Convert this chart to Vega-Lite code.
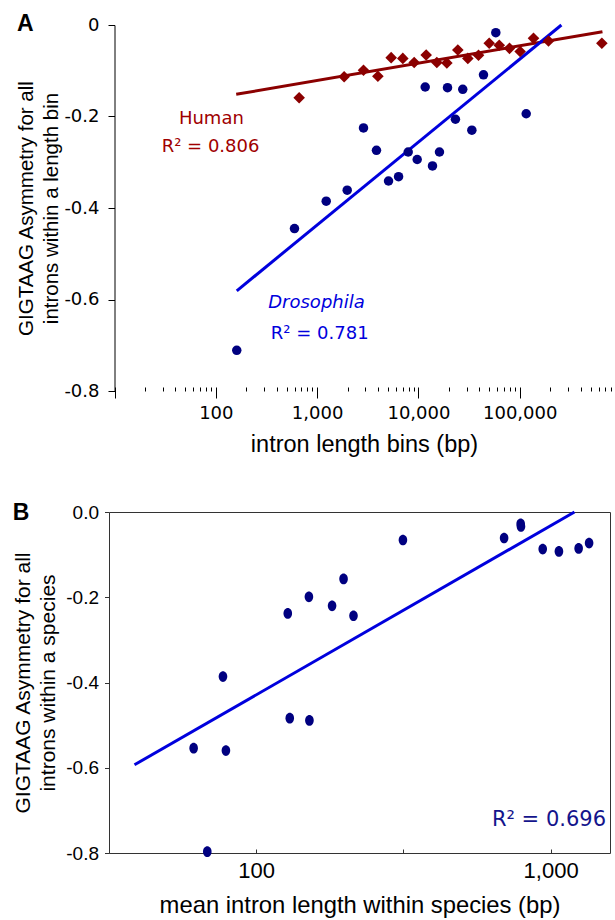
{
  "$schema": "https://vega.github.io/schema/vega-lite/v6.json",
  "background": "white",
  "padding": {"left": 12, "top": 13, "right": 0, "bottom": 0},
  "spacing": 45,
  "datasets": {
    "one": [{}],
    "humanA": [
      {"len": 665, "asym": -0.159}, {"len": 1849, "asym": -0.113}, {"len": 2871, "asym": -0.099},
      {"len": 3981, "asym": -0.112}, {"len": 5383, "asym": -0.0714}, {"len": 7015, "asym": -0.073},
      {"len": 9084, "asym": -0.082}, {"len": 11930, "asym": -0.0656}, {"len": 15200, "asym": -0.082},
      {"len": 19090, "asym": -0.083}, {"len": 24500, "asym": -0.0546}, {"len": 30760, "asym": -0.073},
      {"len": 39200, "asym": -0.066}, {"len": 50000, "asym": -0.040}, {"len": 62800, "asym": -0.0444},
      {"len": 79300, "asym": -0.051}, {"len": 101000, "asym": -0.058}, {"len": 136800, "asym": -0.029},
      {"len": 192400, "asym": -0.035}, {"len": 647000, "asym": -0.040}
    ],
    "drosA": [
      {"len": 161, "asym": -0.711}, {"len": 598, "asym": -0.445}, {"len": 1230, "asym": -0.385},
      {"len": 1982, "asym": -0.361}, {"len": 2871, "asym": -0.225}, {"len": 3855, "asym": -0.274},
      {"len": 5070, "asym": -0.341}, {"len": 6370, "asym": -0.3315}, {"len": 7930, "asym": -0.2776},
      {"len": 9730, "asym": -0.294}, {"len": 11670, "asym": -0.1355}, {"len": 13770, "asym": -0.308},
      {"len": 16140, "asym": -0.2776}, {"len": 19380, "asym": -0.137}, {"len": 23200, "asym": -0.206},
      {"len": 27400, "asym": -0.1405}, {"len": 33700, "asym": -0.230}, {"len": 43900, "asym": -0.109},
      {"len": 58100, "asym": -0.0168}, {"len": 115900, "asym": -0.194}
    ],
    "fitA": [
      {"species": "Human", "len": 159, "asym": -0.1515},
      {"species": "Human", "len": 656000, "asym": -0.0146},
      {"species": "Drosophila", "len": 161, "asym": -0.581},
      {"species": "Drosophila", "len": 258000, "asym": 0}
    ],
    "labelsA": [
      {"group": "human", "label": "Human", "len": 90.4, "asym": -0.217},
      {"group": "human", "label": "R² = 0.806", "len": 88.7, "asym": -0.2776},
      {"group": "drosName", "label": "Drosophila", "len": 986, "asym": -0.618},
      {"group": "dros", "label": "R² = 0.781", "len": 1062, "asym": -0.687}
    ],
    "speciesB": [
      {"len": 315, "asym": -0.0657}, {"len": 695, "asym": -0.061}, {"len": 791, "asym": -0.028},
      {"len": 793, "asym": -0.034}, {"len": 940, "asym": -0.0869}, {"len": 1067, "asym": -0.0925},
      {"len": 1245, "asym": -0.0854}, {"len": 1351, "asym": -0.0728}, {"len": 198, "asym": -0.157},
      {"len": 151, "asym": -0.199}, {"len": 181, "asym": -0.220}, {"len": 128, "asym": -0.238},
      {"len": 214, "asym": -0.2434}, {"len": 77.1, "asym": -0.386}, {"len": 61.3, "asym": -0.554},
      {"len": 78.9, "asym": -0.5596}, {"len": 130, "asym": -0.4836}, {"len": 151.6, "asym": -0.489},
      {"len": 68.2, "asym": -0.797}
    ],
    "fitB": [
      {"len": 38.6, "asym": -0.593}, {"len": 1205, "asym": 0}
    ],
    "labelsB": [
      {"label": "R² = 0.696", "len": 1542, "asym": -0.7364}
    ]
  },
  "vconcat": [
    {
      "width": 504.5,
      "height": 366,
      "view": {"stroke": null},
      "title": {"text": "A", "anchor": "start", "frame": "bounds", "baseline": "top", "offset": 0, "dy": 20, "fontSize": 23, "fontWeight": "bold", "font": "Liberation Sans", "color": "black"},
      "encoding": {
        "x": {
          "field": "len", "type": "quantitative",
          "scale": {"type": "log", "domain": [10, 843000], "range": [5.5, 504.5], "nice": false},
          "axis": {
            "title": "intron length bins (bp)",
            "titleFont": "Liberation Sans", "titleFontSize": 23.5, "titleFontWeight": "normal", "titleColor": "black", "titlePadding": 10,
            "values": [10,20,30,40,50,60,70,80,90,100,200,300,400,500,600,700,800,900,1000,2000,3000,4000,5000,6000,7000,8000,9000,10000,20000,30000,40000,50000,60000,70000,80000,90000,100000,200000,300000,400000,500000,600000,700000,800000],
            "labelExpr": "indexof([100,1000,10000,100000], datum.value) >= 0 ? format(datum.value, ',') : ''",
            "labelFont": "DejaVu Sans", "labelFontSize": 18, "labelColor": "black", "labelOverlap": false, "labelFlush": false, "labelPadding": 6,
            "domain": false, "offset": -4, "tickColor": "black", "tickWidth": 1,
            "tickSize": {"condition": {"test": "indexof([10,100,1000,10000,100000], datum.value) >= 0", "value": 11}, "value": 4},
            "grid": false
          }
        },
        "y": {
          "field": "asym", "type": "quantitative",
          "scale": {"domain": [-0.8, 0], "nice": false, "zero": false},
          "axis": {
            "title": ["GIGTAAG Asymmetry for all", "introns within a length bin"],
            "titleFont": "Liberation Sans", "titleFontSize": 20.5, "titleFontWeight": "normal", "titleColor": "black", "titleLineHeight": 25, "titlePadding": 2,
            "values": [0, -0.2, -0.4, -0.6, -0.8],
            "labelExpr": "datum.value == 0 ? '0' : replace(format(datum.value, '.1f'), '−', '-')",
            "labelFont": "DejaVu Sans", "labelFontSize": 18, "labelColor": "black", "labelPadding": 9,
            "tickSize": 6.5, "tickColor": "black", "domainColor": "black", "offset": -5.5, "grid": false
          }
        }
      },
      "layer": [
        {"data": {"name": "one"}, "mark": {"type": "rule", "color": "#8a8a8a", "strokeWidth": 1}, "encoding": {"x": {"datum": 10}, "x2": {"datum": 843000}, "y": {"datum": 0}}},
        {"data": {"name": "one"}, "mark": {"type": "rule", "color": "black", "strokeWidth": 1}, "encoding": {"x": {"datum": 10}, "x2": {"datum": 843000}, "y": {"datum": -0.8}}},
        {"data": {"name": "fitA"}, "transform": [{"filter": "datum.species == 'Human'"}], "mark": {"type": "line", "color": "#8b0000", "strokeWidth": 3}},
        {"data": {"name": "fitA"}, "transform": [{"filter": "datum.species == 'Drosophila'"}], "mark": {"type": "line", "color": "#0000dd", "strokeWidth": 3}},
        {"data": {"name": "humanA"}, "mark": {"type": "point", "shape": "diamond", "filled": true, "size": 135, "color": "#8b0000", "opacity": 1}},
        {"data": {"name": "drosA"}, "mark": {"type": "point", "shape": "circle", "filled": true, "size": 90, "color": "#000080", "opacity": 1}},
        {"data": {"name": "labelsA"}, "transform": [{"filter": "datum.group == 'human'"}], "mark": {"type": "text", "font": "DejaVu Sans", "fontSize": 18, "align": "center", "baseline": "alphabetic", "color": "#a00000"}, "encoding": {"text": {"field": "label"}}},
        {"data": {"name": "labelsA"}, "transform": [{"filter": "datum.group == 'dros'"}], "mark": {"type": "text", "font": "DejaVu Sans", "fontSize": 18, "align": "center", "baseline": "alphabetic", "color": "#0000dd"}, "encoding": {"text": {"field": "label"}}},
        {"data": {"name": "labelsA"}, "transform": [{"filter": "datum.group == 'drosName'"}], "mark": {"type": "text", "font": "DejaVu Sans", "fontSize": 18, "fontStyle": "italic", "align": "center", "baseline": "alphabetic", "color": "#0000dd"}, "encoding": {"text": {"field": "label"}}}
      ]
    },
    {
      "width": 501,
      "height": 341,
      "view": {"stroke": "#333333", "strokeWidth": 1},
      "title": {"text": "B", "anchor": "start", "frame": "bounds", "baseline": "top", "offset": 0, "dy": 22, "fontSize": 23, "fontWeight": "bold", "font": "Liberation Sans", "color": "black"},
      "encoding": {
        "x": {
          "field": "len", "type": "quantitative",
          "scale": {"type": "log", "domain": [31.62, 1591], "nice": false},
          "axis": {
            "title": "mean intron length within species (bp)",
            "titleFont": "Liberation Sans", "titleFontSize": 23.8, "titleFontWeight": "normal", "titleColor": "black", "titlePadding": 12,
            "values": [31.62, 100, 316.2, 1000],
            "labelExpr": "datum.value == 100 || datum.value == 1000 ? format(datum.value, ',') : ''",
            "labelFont": "Liberation Sans", "labelFontSize": 22, "labelColor": "black", "labelOverlap": false, "labelFlush": false, "labelPadding": 7,
            "domain": false, "offset": -4, "tickSize": 4, "tickColor": "#333333", "grid": false
          }
        },
        "y": {
          "field": "asym", "type": "quantitative",
          "scale": {"domain": [-0.8, 0], "nice": false, "zero": false},
          "axis": {
            "title": ["GIGTAAG Asymmetry for all", "introns within a species"],
            "titleFont": "Liberation Sans", "titleFontSize": 21, "titleFontWeight": "normal", "titleColor": "black", "titleLineHeight": 25, "titlePadding": 7,
            "values": [0, -0.2, -0.4, -0.6, -0.8],
            "labelExpr": "replace(format(datum.value, '.1f'), '−', '-')",
            "labelFont": "Liberation Sans", "labelFontSize": 19, "labelColor": "black", "labelPadding": 6,
            "tickSize": 4.5, "tickColor": "#333333", "domain": false, "grid": false
          }
        }
      },
      "layer": [
        {"data": {"name": "fitB"}, "mark": {"type": "line", "color": "#0000dd", "strokeWidth": 3}},
        {"data": {"name": "speciesB"}, "mark": {"type": "point", "shape": "M-0.8,0A0.8,1,0,1,0,0.8,0A0.8,1,0,1,0,-0.8,0Z", "filled": true, "size": 115, "color": "#000080", "opacity": 1}},
        {"data": {"name": "labelsB"}, "mark": {"type": "text", "font": "DejaVu Sans", "fontSize": 21, "align": "right", "baseline": "alphabetic", "color": "#14148c"}, "encoding": {"text": {"field": "label"}}}
      ]
    }
  ]
}
